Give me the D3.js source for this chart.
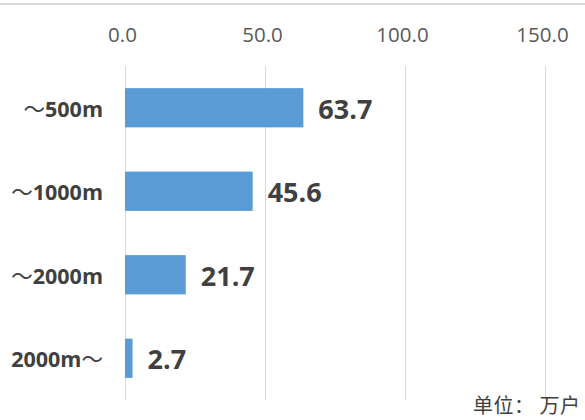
<!DOCTYPE html>
<html><head><meta charset="utf-8">
<script src="https://cdn.jsdelivr.net/npm/d3@7/dist/d3.min.js"></script>
<style>body{margin:0;background:#fff;overflow:hidden}svg{display:block}</style>
</head><body>
<script>
const categories = [
  {pre:"～", main:"500m", post:""},
  {pre:"～", main:"1000m", post:""},
  {pre:"～", main:"2000m", post:""},
  {pre:"", main:"2000m", post:"～"}
];
const values = [63.7, 45.6, 21.7, 2.7];
const tickValues = [0, 50, 100, 150];
const unitLabel = "单位： 万户";

const W = 585, H = 420;
const svg = d3.select("body").append("svg").attr("width", W).attr("height", H);

svg.append("rect").attr("x",0).attr("y",3).attr("width",W).attr("height",2).attr("fill","#d9d9d9");

const x = d3.scaleLinear().domain([0,150]).range([125,545]);
const y = d3.scaleBand().domain(d3.range(values.length)).range([66,400]).paddingInner(0.53).paddingOuter(0.265);

// gridlines
svg.append("g").selectAll("line").data(tickValues).join("line")
  .attr("x1",d=>x(d)+0.5).attr("x2",d=>x(d)+0.5).attr("y1",66).attr("y2",400)
  .attr("stroke","#d9d9d9").attr("stroke-width",1);

// top axis labels
const axis = d3.axisTop(x).tickValues(tickValues).tickFormat(d3.format(".1f")).tickSize(0);
const ag = svg.append("g").attr("transform","translate(0,42)").call(axis);
ag.select(".domain").remove();
ag.selectAll("text").attr("font-family","'Open Sans', 'Noto Sans', sans-serif").attr("font-size",20.5)
  .attr("fill","#595959").attr("dy",0).attr("y",0).attr("dx",-3);

// bars
svg.append("g").selectAll("rect").data(values).join("rect")
  .attr("x",x(0)).attr("y",(d,i)=>y(i)).attr("width",d=>x(d)-x(0)).attr("height",y.bandwidth())
  .attr("fill","#5b9bd5");

// value labels
svg.append("g").selectAll("text").data(values).join("text")
  .attr("x",d=>x(d)+15).attr("y",(d,i)=>y(i)+y.bandwidth()/2+11)
  .attr("font-family","'Open Sans', 'Noto Sans', sans-serif").attr("font-weight","bold").attr("font-size",27)
  .attr("fill","#404040").text(d=>d.toFixed(1));

// category labels
const cl = svg.append("g").selectAll("text").data(categories).join("text")
  .attr("x",103).attr("y",(d,i)=>y(i)+y.bandwidth()/2+9)
  .attr("text-anchor","end").attr("font-family","'Open Sans', 'Noto Sans', sans-serif")
  .attr("font-size",21.5).attr("fill","#404040");
cl.each(function(d){
  const t = d3.select(this);
  if (d.pre) t.append("tspan").attr("font-family","'Noto Sans CJK SC'").attr("font-weight","normal").text(d.pre);
  t.append("tspan").attr("font-weight","bold").text(d.main);
  if (d.post) t.append("tspan").attr("font-family","'Noto Sans CJK SC'").attr("font-weight","normal").text(d.post);
});

svg.append("text").attr("x",473).attr("y",413).attr("font-family","'Noto Sans CJK SC'")
  .attr("font-size",20).attr("letter-spacing",0.5).attr("fill","#404040").text(unitLabel);
</script>
</body></html>
